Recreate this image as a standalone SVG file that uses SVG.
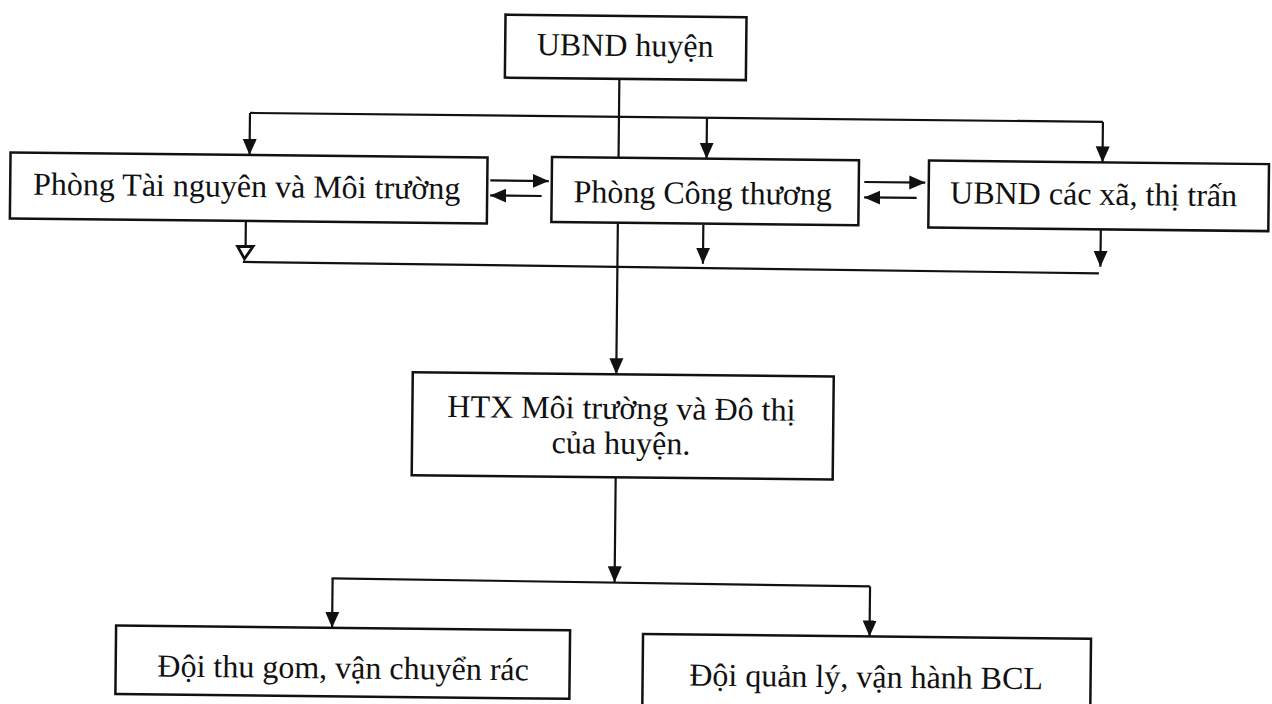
<svg xmlns="http://www.w3.org/2000/svg" width="1272" height="704" viewBox="0 0 1272 704">
<defs>
<marker id="arr" viewBox="0 0 16 15" markerWidth="16" markerHeight="15" refX="16" refY="7.5" orient="auto" markerUnits="userSpaceOnUse">
<path d="M0,0.5 L16,7.5 L0,14.5 z" fill="#111"/>
</marker>
<style>
.box{fill:#fff;stroke:#111;stroke-width:2.5}
.t{font-family:"Liberation Serif","Times New Roman",serif;font-size:32px;fill:#111;text-anchor:middle}
.ln{fill:none;stroke:#111;stroke-width:2.2}
.ar{fill:none;stroke:#111;stroke-width:2.2;marker-end:url(#arr)}
</style>
</defs>
<rect width="1272" height="704" fill="#fff"/>
<g transform="rotate(0.6 636 352)">
<g id="connectors">
<line class="ln" x1="616.5" y1="79" x2="616.5" y2="158"/>
<line class="ln" x1="247.5" y1="117" x2="1100.5" y2="117"/>
<line class="ar" x1="247.5" y1="117" x2="247.5" y2="159"/>
<line class="ar" x1="704.5" y1="117" x2="704.5" y2="158"/>
<line class="ar" x1="1100.5" y1="117" x2="1100.5" y2="157.5"/>
<line class="ar" x1="488.5" y1="182" x2="547" y2="182"/>
<line class="ar" x1="540" y1="197" x2="488.5" y2="197"/>
<line class="ar" x1="862.5" y1="179.6" x2="923.5" y2="179.6"/>
<line class="ar" x1="915" y1="195" x2="862.5" y2="195"/>
<line class="ln" x1="244.5" y1="225" x2="244.5" y2="250.5"/>
<polygon points="236.5,250.5 252,250.5 243.5,263" fill="#fff" stroke="#111" stroke-width="2.8"/>
<line class="ar" x1="702" y1="224" x2="702" y2="263"/>
<line class="ar" x1="1099.5" y1="224.5" x2="1099.5" y2="262"/>
<line class="ln" x1="242" y1="266" x2="1098" y2="268.5"/>
<line class="ar" x1="616.5" y1="224" x2="616.5" y2="374.5"/>
<line class="ar" x1="617" y1="477.5" x2="617" y2="582.5"/>
<line class="ln" x1="334" y1="581.5" x2="872.5" y2="584"/>
<line class="ar" x1="335" y1="581.5" x2="335" y2="631"/>
<line class="ar" x1="872.5" y1="584" x2="872.5" y2="634"/>
</g>
<g id="n1"><rect class="box" x="502" y="16" width="241" height="63"/><text class="t" x="622" y="56">UBND huyện</text></g>
<g id="n2"><rect class="box" x="8.5" y="159" width="477" height="66"/><text class="t" x="245" y="201">Phòng Tài nguyên và Môi trường</text></g>
<g id="n3"><rect class="box" x="550" y="158" width="307" height="65"/><text class="t" x="701" y="203">Phòng Công thương</text></g>
<g id="n4"><rect class="box" x="927" y="157.5" width="340" height="67"/><text class="t" x="1092" y="200">UBND các xã, thị trấn</text></g>
<g id="n5"><rect class="box" x="413" y="374.5" width="421" height="103"/><text class="t" x="622" y="419">HTX Môi trường và Đô thị</text><text class="t" x="622" y="454">của huyện.</text></g>
<g id="n6"><rect class="box" x="119" y="631" width="454" height="68.5"/><text class="t" x="346.5" y="681.5">Đội thu gom, vận chuyển rác</text></g>
<g id="n7"><rect class="box" x="646" y="634" width="448" height="90"/><text class="t" x="869.5" y="685">Đội quản lý, vận hành BCL</text></g>
</g>
</svg>
